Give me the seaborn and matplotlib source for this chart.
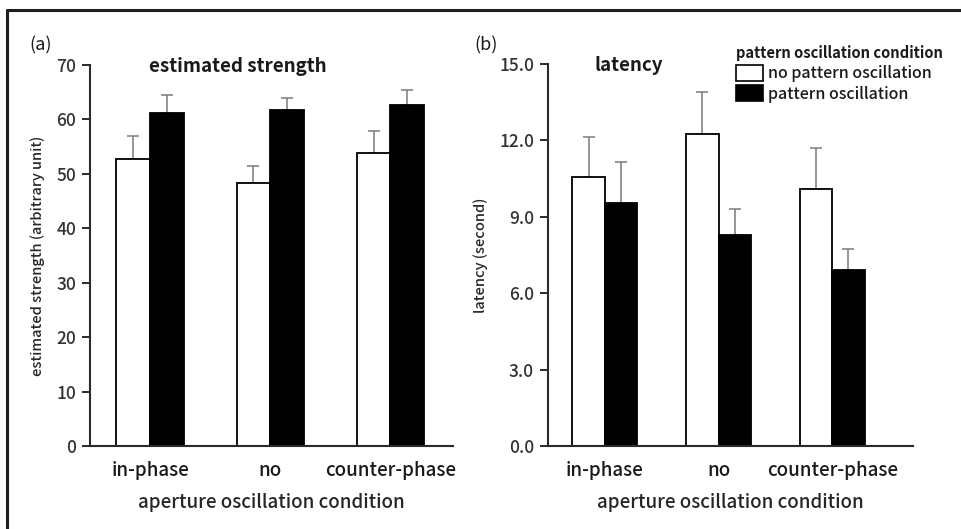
import numpy as np
import pandas as pd
import matplotlib
matplotlib.use("Agg")
import matplotlib.pyplot as plt
import seaborn as sns
from matplotlib.patches import Patch
from matplotlib.lines import Line2D

# ---------------- data ----------------
conditions = ["in-phase", "no", "counter-phase"]
pattern_levels = ["no pattern oscillation", "pattern oscillation"]

strength_no_pattern = [52.7, 48.3, 53.8]
strength_no_pattern_err = [4.2, 3.2, 4.0]
strength_pattern = [61.2, 61.8, 62.7]
strength_pattern_err = [3.2, 2.2, 2.7]

latency_no_pattern = [10.55, 12.25, 10.1]
latency_no_pattern_err = [1.6, 1.65, 1.6]
latency_pattern = [9.55, 8.3, 6.9]
latency_pattern_err = [1.6, 1.0, 0.85]

strength_ticks = [0, 10, 20, 30, 40, 50, 60, 70]
strength_tick_labels = ["0", "10", "20", "30", "40", "50", "60", "70"]
latency_ticks = [0, 3, 6, 9, 12, 15]
latency_tick_labels = ["0.0", "3.0", "6.0", "9.0", "12.0", "15.0"]


def make_df(v0, e0, v1, e1):
    rows = []
    for c, v, e in zip(conditions, v0, e0):
        rows.append((c, pattern_levels[0], v, e))
    for c, v, e in zip(conditions, v1, e1):
        rows.append((c, pattern_levels[1], v, e))
    return pd.DataFrame(rows, columns=["condition", "pattern", "value", "err"])


df_strength = make_df(strength_no_pattern, strength_no_pattern_err,
                      strength_pattern, strength_pattern_err)
df_latency = make_df(latency_no_pattern, latency_no_pattern_err,
                     latency_pattern, latency_pattern_err)

# ---------------- style ----------------
sns.set_style("ticks")
plt.rcParams["font.family"] = ["Noto Sans CJK JP", "DejaVu Sans"]
plt.rcParams["font.weight"] = "medium"
plt.rcParams["axes.labelweight"] = "medium"
plt.rcParams["text.color"] = "#1a1a1a"
palette = {pattern_levels[0]: "white", pattern_levels[1]: "black"}

W, H = 961, 529
fig = plt.figure(figsize=(W / 100, H / 100), dpi=100)


def fx(px):
    return px / W


def fy(py):
    return 1 - py / H


def panel(ax, df, ylim, ticks, ticklabels, xlim, width, ylabel, title, title_x):
    sns.barplot(data=df, x="condition", y="value", hue="pattern",
                order=conditions, hue_order=pattern_levels, palette=palette,
                edgecolor="black", linewidth=1.3, width=width, gap=0,
                errorbar=None, ax=ax, legend=False)
    for cont, level in zip(ax.containers, pattern_levels):
        sub = df[df["pattern"] == level].set_index("condition").loc[conditions]
        xs = [b.get_x() + b.get_width() / 2 for b in cont]
        ax.errorbar(xs, sub["value"].values,
                    yerr=[np.zeros(len(xs)), sub["err"].values],
                    fmt="none", ecolor="#7a7a7a", elinewidth=1.1,
                    capsize=4, capthick=1.1, zorder=0.9)
    ax.set_ylim(*ylim)
    ax.set_xlim(*xlim)
    ax.set_yticks(ticks)
    ax.set_yticklabels(ticklabels)
    sns.despine(ax=ax)
    for s in ("left", "bottom"):
        ax.spines[s].set_linewidth(1.5)
        ax.spines[s].set_color("#2a2a2a")
    ax.tick_params(axis="y", length=6, width=1.4, color="#2a2a2a",
                   labelsize=12.5, pad=4, labelcolor="#333333")
    ax.tick_params(axis="x", length=0, labelsize=13.5, pad=11,
                   labelcolor="#1a1a1a")
    ax.set_xlabel("aperture oscillation condition", fontsize=13.5,
                  labelpad=9, fontweight="medium")
    ax.set_ylabel(ylabel, fontsize=10.5, labelpad=8, fontweight="medium")
    ax.text(title_x, 0.995, title, transform=ax.transAxes, fontsize=13.5,
            fontweight="bold", ha="center", va="center")


axL = fig.add_axes([fx(90), fy(446), fx(453) - fx(90), fy(65) - fy(446)])
panel(axL, df_strength, (0, 70), strength_ticks, strength_tick_labels,
      (-0.5, 2.52), 0.56, "estimated strength (arbitrary unit)",
      "estimated strength", 0.408)

axR = fig.add_axes([fx(548), fy(446), fx(913) - fx(548), fy(64) - fy(446)])
panel(axR, df_latency, (0, 15), latency_ticks, latency_tick_labels,
      (-0.5, 2.71), 0.57, "latency (second)", "latency", 0.222)

# legend
handles = [Patch(facecolor=palette[l], edgecolor="black", linewidth=1.2)
           for l in pattern_levels]
leg = axR.legend(handles, pattern_levels, title="pattern oscillation condition",
                 loc="upper left", bbox_to_anchor=(fx(736), fy(45)),
                 bbox_transform=fig.transFigure, frameon=False,
                 prop={"size": 11.5, "weight": "medium"},
                 title_fontproperties={"size": 10.6, "weight": "bold"},
                 handlelength=1.7, handleheight=1.1, handletextpad=0.3,
                 labelspacing=0.2, borderpad=0, borderaxespad=0,
                 alignment="left")
leg._legend_box.sep = 3

# panel letters
fig.text(fx(41), fy(45), "(a)", fontsize=13, ha="center", va="center",
         fontweight="normal")
fig.text(fx(486), fy(45), "(b)", fontsize=13, ha="center", va="center",
         fontweight="normal")

# outer frame (top and left edges)
fig.add_artist(Line2D([fx(7), 1.0], [fy(10), fy(10)], color="#1e1e1e",
                      lw=2.2, transform=fig.transFigure))
fig.add_artist(Line2D([fx(7), fx(7)], [0.0, fy(10)], color="#1e1e1e",
                      lw=2.2, transform=fig.transFigure))

fig.savefig("out.png", dpi=100)
